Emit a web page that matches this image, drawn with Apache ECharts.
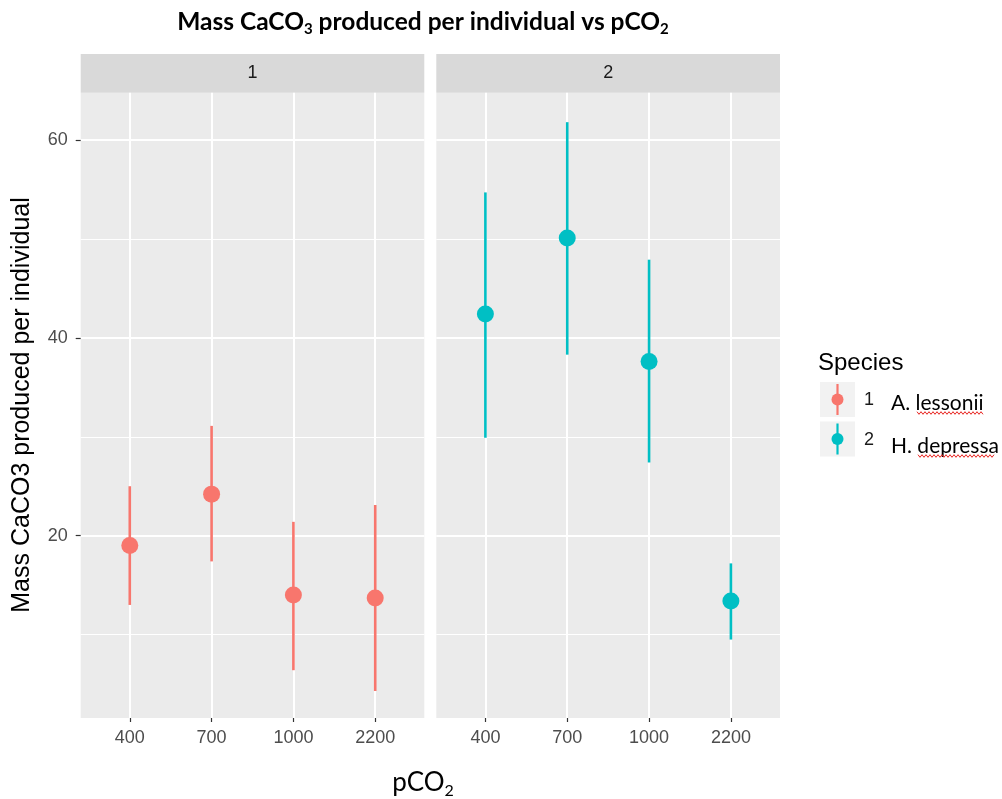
<!DOCTYPE html>
<html>
<head>
<meta charset="utf-8">
<title>Mass CaCO3 produced per individual vs pCO2</title>
<script src="https://cdn.jsdelivr.net/npm/echarts@6/dist/echarts.min.js"></script>
<style>
  html, body { margin: 0; padding: 0; background: #fff; }
  #chart { width: 1002px; height: 799px; }
</style>
</head>
<body>
<div id="chart"></div>
<script>
// pCO2 treatments (x categories) and facet / species labels
const pco2Levels = ['400', '700', '1000', '2200'];
const panelLabels = ['1', '2'];
const speciesNames = ['A. lessonii', 'H. depressa'];
const yTicks = [20, 40, 60];
const yMinorTicks = [10, 30, 50];

// species 1 (A. lessonii): mean and error bar ends
const lessoniiMean = [19.0, 24.2, 14.0, 13.7];
const lessoniiLow = [13.0, 17.4, 6.4, 4.3];
const lessoniiHigh = [25.0, 31.1, 21.4, 23.1];

// species 2 (H. depressa)
const depressaMean = [42.4, 50.1, 37.6, 13.4];
const depressaLow = [29.9, 38.3, 27.4, 9.5];
const depressaHigh = [54.7, 61.8, 47.9, 17.2];

const colors = ['#F8766D', '#00BFC4'];
const means = [lessoniiMean, depressaMean];
const lows = [lessoniiLow, depressaLow];
const highs = [lessoniiHigh, depressaHigh];

const yMin = 1.57, yMax = 64.78;
const panelBoxes = [
  { left: 80.7, width: 343.6 },
  { left: 436.3, width: 343.7 }
];
const plotTop = 92.7, plotHeight = 625.3;
const stripTop = 54;

const chart = echarts.init(document.getElementById('chart'));

const grids = [], xAxes = [], yAxes = [], series = [];
panelBoxes.forEach((box, i) => {
  grids.push({
    left: box.left, top: plotTop, width: box.width, height: plotHeight,
    show: true, backgroundColor: '#EBEBEB', borderWidth: 0
  });
  const xs = pco2Levels.map((_, k) => k + 1);
  xAxes.push({
    type: 'value', gridIndex: i, min: 0.4, max: 4.6,
    axisLine: { show: false },
    axisTick: { show: true, customValues: xs, length: 4, lineStyle: { color: '#333', width: 1.2 } },
    axisLabel: {
      customValues: xs, margin: 11, color: '#4D4D4D', fontSize: 18,
      fontFamily: 'Liberation Sans', formatter: v => pco2Levels[Math.round(v) - 1]
    },
    splitLine: { show: true, lineStyle: { color: '#FFFFFF', width: 2 } }
  });
  // major gridlines + labels
  yAxes.push({
    type: 'value', gridIndex: i, min: yMin, max: yMax,
    axisLine: { show: false },
    axisTick: { show: i === 0, customValues: yTicks, length: 5, lineStyle: { color: '#333', width: 1.2 } },
    axisLabel: { show: i === 0, customValues: yTicks, margin: 13, color: '#4D4D4D', fontSize: 18, fontFamily: 'Liberation Sans' },
    splitLine: { show: true, lineStyle: { color: '#FFFFFF', width: 2 } }
  });
  // minor gridlines
  yAxes.push({
    type: 'value', gridIndex: i, min: yMin, max: yMax,
    axisLine: { show: false },
    axisTick: { show: false, customValues: yMinorTicks },
    axisLabel: { show: false },
    splitLine: { show: true, lineStyle: { color: '#FFFFFF', width: 1 } }
  });

  const color = colors[i];
  series.push({
    type: 'custom', xAxisIndex: i, yAxisIndex: i * 2, silent: true,
    data: means[i].map((_, k) => [k + 1, lows[i][k], highs[i][k]]),
    encode: { x: 0, y: [1, 2] },
    renderItem(params, api) {
      const a = api.coord([api.value(0), api.value(1)]);
      const b = api.coord([api.value(0), api.value(2)]);
      return {
        type: 'line',
        shape: { x1: a[0], y1: a[1], x2: b[0], y2: b[1] },
        style: { stroke: color, lineWidth: 2.6 }
      };
    },
    z: 3
  });
  series.push({
    type: 'scatter', xAxisIndex: i, yAxisIndex: i * 2, silent: true,
    symbol: 'circle', symbolSize: 17,
    itemStyle: { color: color, opacity: 1 },
    data: means[i].map((v, k) => [k + 1, v]),
    z: 4
  });
});

// red spell-check squiggle under legend labels
function squiggle(x0, x1, y) {
  const pts = [];
  let up = true;
  for (let x = x0; x <= x1; x += 2) {
    pts.push([x, up ? y - 1.3 : y + 1.3]);
    up = !up;
  }
  return pts;
}

const graphics = [];
panelBoxes.forEach((box, i) => {
  graphics.push({
    type: 'rect', left: box.left, top: stripTop, silent: true,
    shape: { width: box.width, height: plotTop - stripTop },
    style: { fill: '#D9D9D9' }
  });
  graphics.push({
    type: 'text', x: box.left + box.width / 2, y: (stripTop + plotTop) / 2, silent: true,
    style: { text: panelLabels[i], align: 'center', verticalAlign: 'middle', fill: '#1A1A1A', font: '18px "Liberation Sans"' }
  });
});

// title
graphics.push({
  type: 'text', x: 423, y: 22, silent: true,
  style: {
    text: '{a|Mass CaCO}{s|3}{a| produced per individual vs pCO}{s|2}',
    align: 'center', verticalAlign: 'middle',
    rich: {
      a: { fontFamily: 'Lato', fontWeight: 'bold', fontSize: 24.5, lineHeight: 30, fill: '#000' },
      s: { fontFamily: 'Lato', fontWeight: 'bold', fontSize: 15, lineHeight: 15, verticalAlign: 'bottom', fill: '#000' }
    }
  }
});
// x axis title
graphics.push({
  type: 'text', x: 423, y: 783, silent: true,
  style: {
    text: '{a|pCO}{s|2}', align: 'center', verticalAlign: 'middle',
    rich: {
      a: { fontFamily: 'Lato', fontSize: 26, lineHeight: 32, fill: '#000' },
      s: { fontFamily: 'Lato', fontSize: 16, lineHeight: 16, verticalAlign: 'bottom', fill: '#000' }
    }
  }
});
// y axis title
graphics.push({
  type: 'text', x: 22, y: 405, rotation: Math.PI / 2, silent: true,
  style: { text: 'Mass CaCO3 produced per individual', align: 'center', verticalAlign: 'middle', fill: '#000', font: '25px "Liberation Sans"' }
});

// legend
graphics.push({
  type: 'text', x: 818, y: 363, silent: true,
  style: { text: 'Species', align: 'left', verticalAlign: 'middle', fill: '#000', font: '24px "Liberation Sans"' }
});
const keyTops = [382, 421.5];
keyTops.forEach((top, i) => {
  const cx = 837.5, cy = top + 17.5;
  graphics.push({ type: 'rect', x: 820, y: top, silent: true, shape: { width: 35, height: 35 }, style: { fill: '#F2F2F2' } });
  graphics.push({ type: 'line', silent: true, shape: { x1: cx, y1: top + 2, x2: cx, y2: top + 33 }, style: { stroke: colors[i], lineWidth: 2.2 } });
  graphics.push({ type: 'circle', silent: true, shape: { cx: cx, cy: cy, r: 6 }, style: { fill: colors[i] } });
  graphics.push({
    type: 'text', x: 864, y: cy + 1, silent: true,
    style: { text: panelLabels[i], align: 'left', verticalAlign: 'middle', fill: '#1A1A1A', font: '18px "Liberation Sans"' }
  });
});
const nameY = [403, 446];
const squiggleSpan = [[917, 984, 413], [918, 995, 456]];
speciesNames.forEach((name, i) => {
  graphics.push({
    type: 'text', x: 891, y: nameY[i], silent: true,
    style: { text: name, align: 'left', verticalAlign: 'middle', fill: '#000', font: '21px Lato' }
  });
  const s = squiggleSpan[i];
  graphics.push({
    type: 'polyline', silent: true,
    shape: { points: squiggle(s[0], s[1], s[2]) },
    style: { stroke: '#E8231F', lineWidth: 1, fill: null }
  });
});

chart.setOption({
  animation: false,
  backgroundColor: '#FFFFFF',
  grid: grids,
  xAxis: xAxes,
  yAxis: yAxes,
  series: series,
  graphic: graphics
});
</script>
</body>
</html>
